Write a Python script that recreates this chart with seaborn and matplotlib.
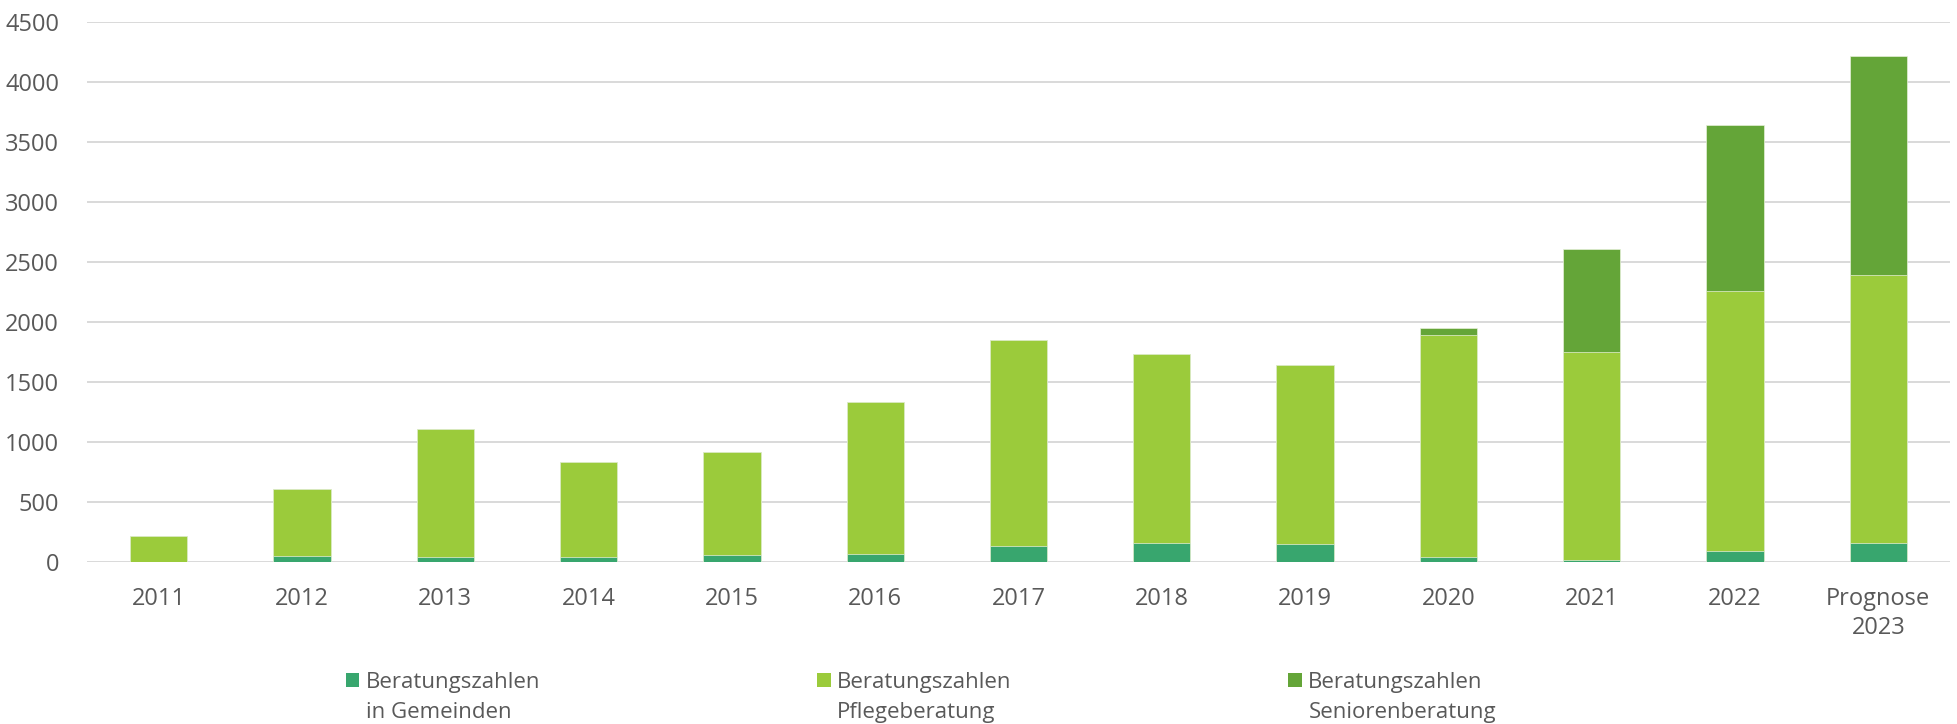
import numpy as np
import pandas as pd
import seaborn as sns
import matplotlib.pyplot as plt
from matplotlib.patches import Patch, Rectangle
from matplotlib.legend_handler import HandlerPatch

# Daten
jahre = ['2011', '2012', '2013', '2014', '2015', '2016', '2017', '2018',
         '2019', '2020', '2021', '2022', 'Prognose\n2023']
gemeinden = [0, 50, 40, 40, 55, 65, 130, 160, 150, 45, 20, 95, 155]
pflege = [220, 560, 1070, 795, 860, 1265, 1720, 1570, 1495, 1845, 1730, 2160, 2235]
senioren = [0, 0, 0, 0, 0, 0, 0, 0, 0, 60, 855, 1390, 1830]

labels = ['Beratungszahlen\nin Gemeinden', 'Beratungszahlen\nPflegeberatung',
          'Beratungszahlen\nSeniorenberatung']
farben = ['#38A66E', '#9BCB3B', '#64A538']
grau = '#595959'

df = pd.DataFrame({'Jahr': jahre, 'Gemeinden': gemeinden,
                   'Pflege': pflege, 'Senioren': senioren})
df['stufe1'] = df['Gemeinden']
df['stufe2'] = df['stufe1'] + df['Pflege']
df['stufe3'] = df['stufe2'] + df['Senioren']

sns.set_style('white')
plt.rcParams['font.family'] = ['Open Sans', 'DejaVu Sans']

fig = plt.figure(figsize=(19.57, 7.24), dpi=100)
ax = fig.add_axes([87 / 1957, 162 / 724, 1863 / 1957, 540 / 724])

# gestapelt: größte Summe zuerst, darüber die kleineren
for spalte, farbe in zip(['stufe3', 'stufe2', 'stufe1'], farben[::-1]):
    sns.barplot(data=df, x='Jahr', y=spalte, color=farbe, width=0.4,
                saturation=1, edgecolor='#e6f0d8', linewidth=0.5, ax=ax, zorder=3)

ax.set_ylim(0, 4500)
ax.set_yticks(np.arange(0, 4501, 500))
ax.set_xlim(-0.5, len(jahre) - 0.5)
ax.grid(axis='y', color='#d9d9d9', linewidth=1.4, zorder=0)
ax.set_axisbelow(True)
for s in ax.spines.values():
    s.set_visible(False)
ax.set_xlabel('')
ax.set_ylabel('')
ax.tick_params(axis='both', length=0, labelsize=17, colors=grau)
ax.tick_params(axis='y', pad=20)
ax.tick_params(axis='x', pad=18)
for t in ax.get_xticklabels():
    t.set_linespacing(1.3)


def oberes_quadrat(legend, orig_handle, xdescent, ydescent, width, height, fontsize):
    return Rectangle((-xdescent, -ydescent + 0.8 * fontsize), width, height)


handles = [Patch(facecolor=f, edgecolor='none') for f in farben]
leg = fig.legend(handles, labels, ncol=3, loc='upper left',
                 bbox_to_anchor=(326 / 1957, 1 - 652 / 724), frameon=False,
                 fontsize=16, handlelength=0.6, handleheight=0.6,
                 handletextpad=0.3, columnspacing=12.45,
                 handler_map={Patch: HandlerPatch(patch_func=oberes_quadrat)})
for t in leg.get_texts():
    t.set_color(grau)
    t.set_linespacing(1.55)

plt.savefig('out.png', dpi=100)
